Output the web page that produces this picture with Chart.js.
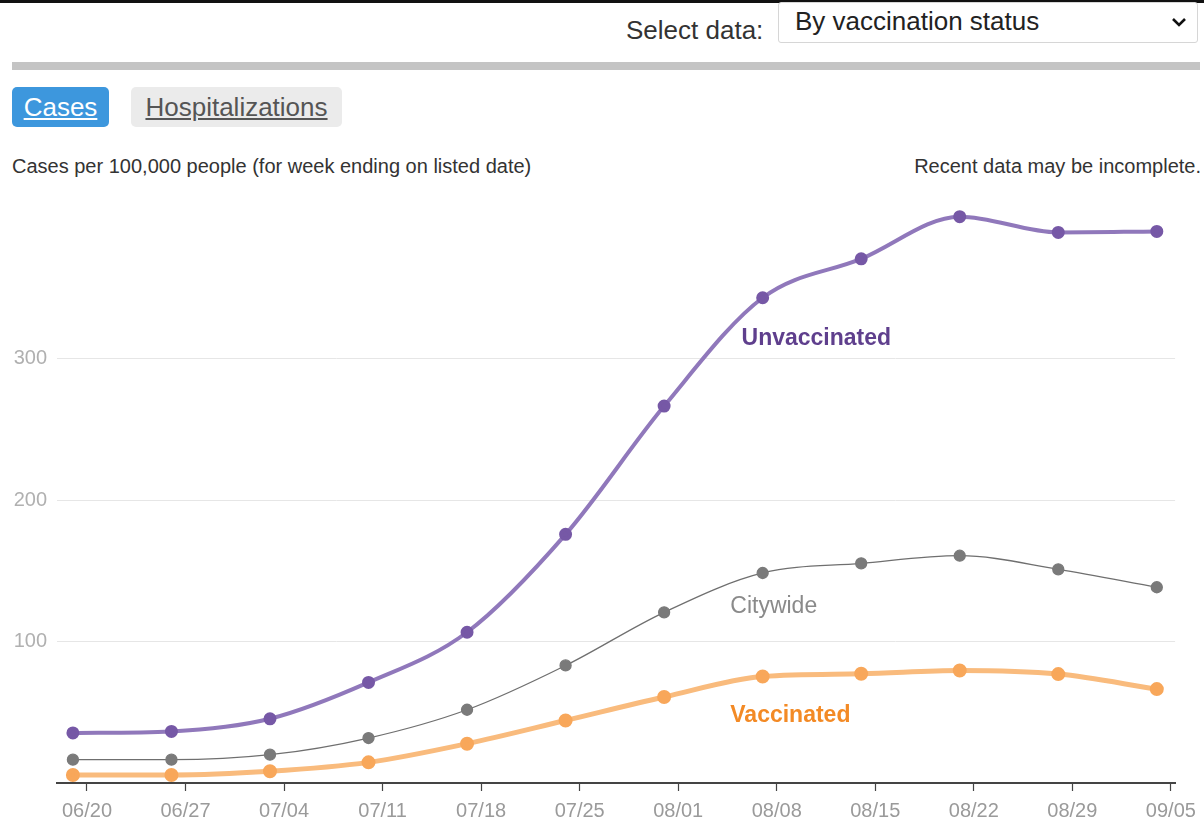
<!DOCTYPE html>
<html>
<head>
<meta charset="utf-8">
<script src="https://cdn.jsdelivr.net/npm/chart.js@4.4.0/dist/chart.umd.min.js"></script>
<style>
  html, body { margin: 0; padding: 0; background: #fff; }
  body {
    width: 1204px; height: 831px; position: relative; overflow: hidden;
    font-family: "Liberation Sans", Arial, sans-serif;
  }
  .abs { position: absolute; white-space: nowrap; }
  #topline { left: 0; top: 0; width: 1204px; height: 3px; background: #111; }
  #selLabel { left: 626px; top: 15px; font-size: 26px; line-height: 30px; color: #333; }
  #select {
    left: 778px; top: 2px; width: 420px; height: 41px;
    border: 1px solid #d6d6d6; border-radius: 3px; box-sizing: border-box;
  }
  #select span { position: absolute; left: 16px; top: 3px; font-size: 26px; line-height: 30px; color: #222; }
  #select svg { position: absolute; right: 10px; top: 13px; }
  #bar { left: 12px; top: 62px; width: 1188px; height: 8px; background: #c4c4c4; }
  .btn {
    top: 87px; height: 40px; border-radius: 5px; font-size: 26px; line-height: 40px;
    text-align: center; text-decoration: underline;
  }
  #btnCases { left: 12px; width: 97px; background: #3d97dd; color: #fff; }
  #btnHosp { left: 131px; width: 211px; background: #ebebeb; color: #555; }
  .note { top: 154px; font-size: 20px; line-height: 24px; color: #333; }
  #noteL { left: 12px; }
  #noteR { right: 3px; }
  #wrap { position: absolute; left: 0; top: 167px; width: 1204px; height: 664px; }
</style>
</head>
<body>
<div class="abs" id="topline"></div>
<div class="abs" id="selLabel">Select data:</div>
<div class="abs" id="select"><span>By vaccination status</span>
  <svg width="16" height="12" viewBox="0 0 16 12"><polyline points="2,3 8,9 14,3" fill="none" stroke="#111" stroke-width="2.6"/></svg>
</div>
<div class="abs" id="bar"></div>
<div class="abs btn" id="btnCases">Cases</div>
<div class="abs btn" id="btnHosp">Hospitalizations</div>
<div class="abs note" id="noteL">Cases per 100,000 people (for week ending on listed date)</div>
<div class="abs note" id="noteR">Recent data may be incomplete.</div>
<div id="wrap"><canvas id="chart"></canvas></div>

<script>
/* ================= DATA ================= */

// week-ending dates of each point (MM/DD, 2021)
const dates = ["06/19","06/26","07/03","07/10","07/17","07/24","07/31","08/07","08/14","08/21","08/28","09/04"];

const unvaccinated = [35.4, 36.5, 45.4, 71.1, 106.6, 175.8, 266.5, 343.1, 370.6, 400.4, 389.3, 390.0];
const citywide     = [16.5, 16.5, 20.0, 31.8, 51.8, 83.1, 120.7, 148.5, 155.3, 160.7, 151.1, 138.4];
const vaccinated   = [5.7, 5.7, 8.3, 14.6, 27.8, 44.2, 60.8, 75.3, 77.2, 79.5, 77.0, 66.4];

const xTickLabels = ["06/20","06/27","07/04","07/11","07/18","07/25","08/01","08/08","08/15","08/22","08/29","09/05"];
const yTicks = [100, 200, 300];

/* ================= HELPERS ================= */

const FONT = '"Liberation Sans", Arial, sans-serif';
const BASE = Date.UTC(2021, 5, 20);

// day offset from 06/20
function dayOf(s) {
  const [m, d] = s.split("/").map(Number);
  return (Date.UTC(2021, m - 1, d) - BASE) / 86400000;
}

const xs = dates.map(dayOf);
const tickDays = xTickLabels.map(dayOf);
const pts = vals => vals.map((v, i) => ({ x: xs[i], y: v }));

/* ================= LINE LABELS ================= */

const lineLabels = [
  { text: "Unvaccinated", x: 46.5, y: 314, color: "#5f3f8d", bold: true },
  { text: "Citywide",     x: 45.7, y: 124.5, color: "#8a8a8a", bold: false },
  { text: "Vaccinated",   x: 45.7, y: 47.5, color: "#f38a25", bold: true }
];

const labelPlugin = {
  id: "lineLabels",
  afterDatasetsDraw(chart) {
    const { ctx, scales: { x, y } } = chart;
    ctx.save();
    ctx.textBaseline = "middle";
    ctx.textAlign = "left";
    lineLabels.forEach(l => {
      ctx.font = `${l.bold ? "bold " : ""}23px ${FONT}`;
      ctx.fillStyle = l.color;
      ctx.fillText(l.text, x.getPixelForValue(l.x), y.getPixelForValue(l.y));
    });
    ctx.restore();
  }
};

/* ================= CHART ================= */

new Chart(document.getElementById("chart").getContext("2d"), {
  type: "line",
  data: {
    datasets: [
      {
        label: "Unvaccinated",
        data: pts(unvaccinated),
        borderColor: "#9078bb",
        backgroundColor: "#7658a6",
        pointBorderColor: "#7658a6",
        borderWidth: 4,
        pointRadius: 4.5
      },
      {
        label: "Citywide",
        data: pts(citywide),
        borderColor: "#6f6f6f",
        backgroundColor: "#7a7a7a",
        pointBorderColor: "#7a7a7a",
        borderWidth: 1.3,
        pointRadius: 5.5
      },
      {
        label: "Vaccinated",
        data: pts(vaccinated),
        borderColor: "#f9bb7d",
        backgroundColor: "#f8a75a",
        pointBorderColor: "#f8a75a",
        borderWidth: 5,
        pointRadius: 4.5
      }
    ]
  },
  options: {
    responsive: true,
    maintainAspectRatio: false,
    animation: false,
    cubicInterpolationMode: "monotone",
    layout: { padding: { top: 21, right: 26, left: 0, bottom: 0 } },
    elements: { point: { borderWidth: 1 } },
    plugins: { legend: { display: false }, tooltip: { enabled: false } },
    scales: {
      x: {
        type: "linear",
        min: -2.13,
        max: 77.3,
        afterBuildTicks: axis => { axis.ticks = tickDays.map(v => ({ value: v })); },
        afterFit: axis => { axis.height = 48; },
        border: { display: true, color: "#444", width: 2 },
        grid: { drawOnChartArea: false, drawTicks: true, tickLength: 8, tickColor: "#444", tickWidth: 1.2 },
        ticks: {
          autoSkip: false,
          maxRotation: 0,
          padding: 8,
          color: "#9a9a9a",
          font: { family: FONT, size: 20 },
          callback: (v, i) => xTickLabels[i]
        }
      },
      y: {
        min: 0,
        max: 420,
        afterBuildTicks: axis => { axis.ticks = yTicks.map(v => ({ value: v })); },
        afterFit: axis => { axis.width = 57; },
        border: { display: false },
        grid: { color: "#e6e6e6", lineWidth: 1, drawTicks: false },
        ticks: {
          padding: 10,
          color: "#b0b0b0",
          font: { family: FONT, size: 20 }
        }
      }
    }
  },
  plugins: [labelPlugin]
});
</script>
</body>
</html>
